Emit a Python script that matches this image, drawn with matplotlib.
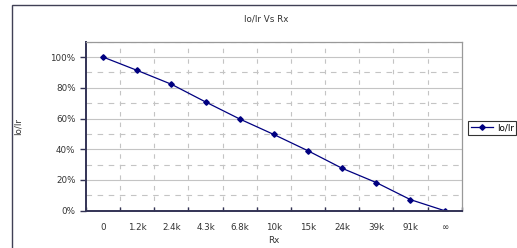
import matplotlib
matplotlib.use("Agg")
import matplotlib.pyplot as plt
import numpy as np
from matplotlib.patches import Rectangle
from matplotlib.ticker import FixedLocator, PercentFormatter

# data
rx_labels = ["0", "1.2k", "2.4k", "4.3k", "6.8k", "10k", "15k", "24k", "39k", "91k", "∞"]
io_ir = [1.0, 0.913, 0.823, 0.708, 0.597, 0.496, 0.39, 0.276, 0.183, 0.072, 0.0]

plt.rcParams["font.family"] = ["DejaVu Sans"]
plt.rcParams["font.size"] = 6.3

navy = "#000080"
axis_col = "#333355"
grid_col = "#c4c4c4"

fig = plt.figure(figsize=(5.17, 2.48), dpi=100)
ax = fig.add_axes([0.1663, 0.1504, 0.7267, 0.6815])

x = np.arange(len(rx_labels))
line, = ax.plot(x, io_ir, color=navy, lw=0.9, marker="D", ms=2.8,
                mfc=navy, mec=navy, label="Io/Ir")

ax.set_xlim(-0.5, len(rx_labels) - 0.5)
ax.set_ylim(0, 1.1)

# category boundaries for ticks / vertical grid
bounds = np.arange(len(rx_labels) + 1) - 0.5
ax.set_xticks(x)
ax.set_xticklabels(rx_labels)
ax.tick_params(axis="x", which="major", length=0, pad=9, colors="#333333")
ax.xaxis.set_minor_locator(FixedLocator(bounds))
ax.tick_params(axis="x", which="minor", direction="in", length=3, width=1.0,
               color=axis_col)

ax.set_yticks(np.arange(0, 1.01, 0.2))
ax.yaxis.set_major_formatter(PercentFormatter(1.0, decimals=0))
ax.yaxis.set_minor_locator(FixedLocator(np.arange(0.1, 1.11, 0.2)))
ax.tick_params(axis="y", which="major", direction="out", length=4.5, width=1.0,
               color=axis_col, pad=3, colors="#333333")
ax.tick_params(axis="y", which="minor", length=0)

# grid
for yv in np.arange(0.2, 1.01, 0.2):
    ax.axhline(yv, color=grid_col, lw=0.8, zorder=0)
for yv in np.arange(0.1, 1.11, 0.2):
    ax.axhline(yv, color=grid_col, lw=0.8, ls=(0, (5, 5)), zorder=0)
for xv in bounds[1:-1]:
    ax.axvline(xv, color=grid_col, lw=0.8, ls=(0, (4, 5.5)), zorder=0)

for side in ("left", "bottom"):
    ax.spines[side].set_color(axis_col)
    ax.spines[side].set_linewidth(1.4)
for side in ("top", "right"):
    ax.spines[side].set_color("#999999")
    ax.spines[side].set_linewidth(0.9)

ax.set_xlabel("Rx", labelpad=3, color="#333333")
ax.set_ylabel("Io/Ir", labelpad=20, color="#333333")
fig.text(0.514, 0.925, "Io/Ir Vs Rx", ha="center", va="center", color="#333333")

leg = fig.legend(handles=[line], loc="center left",
                 bbox_to_anchor=(0.905, 0.484), frameon=True, fancybox=False,
                 borderpad=0.3, handlelength=2.6, handletextpad=0.4,
                 borderaxespad=0)
leg.get_frame().set_edgecolor("#000000")
leg.get_frame().set_linewidth(0.8)

fig.patches.append(Rectangle((0.0232, -0.1), 1.2, 1.081,
                             transform=fig.transFigure, fill=False,
                             edgecolor="#404055", lw=1.0))

fig.savefig("out.png", dpi=100)
